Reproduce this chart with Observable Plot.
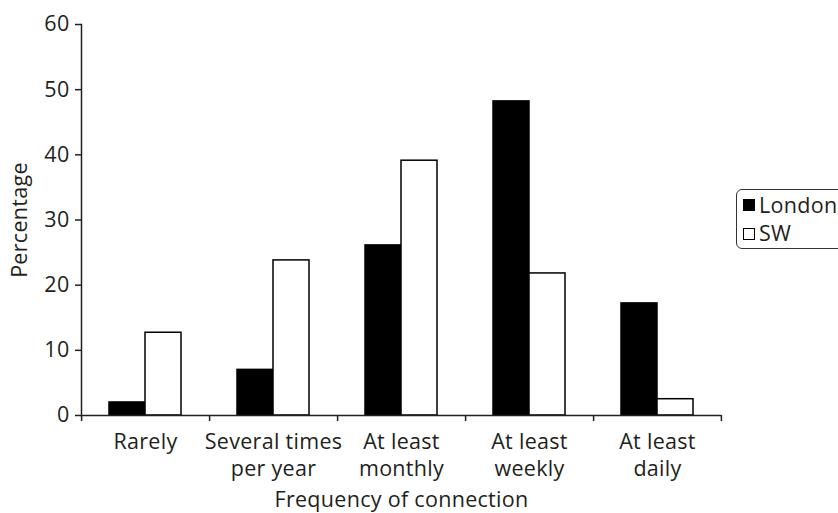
<!DOCTYPE html>
<html>
<head>
<meta charset="utf-8">
<script src="https://cdn.jsdelivr.net/npm/d3@7"></script>
<script src="https://cdn.jsdelivr.net/npm/@observablehq/plot@0.6"></script>
<style>
  html, body { margin: 0; padding: 0; background: #fff; }
  #wrap { position: relative; width: 838px; height: 513px; overflow: hidden; font-family: "Open Sans", sans-serif; color: #231f20; }
  #legend { position: absolute; left: 736px; top: 189px; width: 140px; height: 58px; border: 1.5px solid #333; border-radius: 6px; box-sizing: content-box; }
  .sw { position: absolute; left: 743px; width: 10px; height: 10px; border: 1.5px solid #000; }
  .lt { position: absolute; left: 759px; font-size: 21.5px; line-height: 1; letter-spacing: 0.3px; white-space: nowrap; }
</style>
</head>
<body>
<div id="wrap"></div>
<script>
const categories = ["Rarely", "Several times per year", "At least monthly", "At least weekly", "At least daily"];
const tickLabels = ["Rarely", "Several times\nper year", "At least\nmonthly", "At least\nweekly", "At least\ndaily"];
const series = ["London", "SW"];
const london = [2.0, 7.0, 26.1, 48.2, 17.2];
const sw = [12.7, 23.8, 39.1, 21.8, 2.5];
const yTicks = [0, 10, 20, 30, 40, 50, 60];
const colors = ["#000000", "#ffffff"];

const data = categories.flatMap((c, i) => [
  {cat: c, series: "London", value: london[i]},
  {cat: c, series: "SW", value: sw[i]}
]);

const chart = Plot.plot({
  width: 838,
  height: 513,
  marginLeft: 79,
  marginRight: 116,
  marginTop: 24,
  marginBottom: 98,
  style: {fontFamily: "Open Sans", fontSize: "21.5px", color: "#231f20", background: "#fff", letterSpacing: "0.3px"},
  fx: {domain: categories, padding: 0},
  x: {domain: series, paddingInner: 0, paddingOuter: 0.74, axis: null},
  y: {domain: [0, 60]},
  color: {domain: series, range: colors},
  marks: [
    Plot.barY(data, {fx: "cat", x: "series", y: "value", fill: "series", stroke: "#000", strokeWidth: 1.5}),
    Plot.ruleY([0], {stroke: "#231f20", strokeWidth: 1.5}),
    Plot.frame({anchor: "left", facet: "super", stroke: "#231f20", strokeWidth: 1.5}),
    Plot.ruleX(categories, {fx: d => d, x: () => "London", dx: -45.9, y1: () => 0, y2: () => 0, insetBottom: -6, stroke: "#231f20", strokeWidth: 1.5}),
    Plot.ruleX(categories.slice(-1), {fx: d => d, x: () => "SW", dx: 45.9, y1: () => 0, y2: () => 0, insetBottom: -6, stroke: "#231f20", strokeWidth: 1.5}),
    Plot.axisY({ticks: yTicks, tickSize: 6, tickPadding: 6, strokeWidth: 1.5, label: "Percentage", labelAnchor: "center", labelArrow: "none", labelOffset: 70}),
    Plot.axisFx({anchor: "bottom", tickSize: 0, tickPadding: 14, lineHeight: 1.26, tickFormat: (d) => tickLabels[categories.indexOf(d)], label: "Frequency of connection", labelAnchor: "center", labelArrow: "none", labelOffset: 91})
  ]
});
const wrap = document.getElementById("wrap");
wrap.appendChild(chart);

const legend = document.createElement("div");
legend.id = "legend";
wrap.appendChild(legend);
const swTops = [199, 228];
const txtTops = [194, 222];
series.forEach((s, i) => {
  const sq = document.createElement("div");
  sq.className = "sw";
  sq.style.top = swTops[i] + "px";
  sq.style.background = colors[i];
  wrap.appendChild(sq);
  const t = document.createElement("div");
  t.className = "lt";
  t.style.top = txtTops[i] + "px";
  t.textContent = s;
  wrap.appendChild(t);
});
</script>
</body>
</html>
